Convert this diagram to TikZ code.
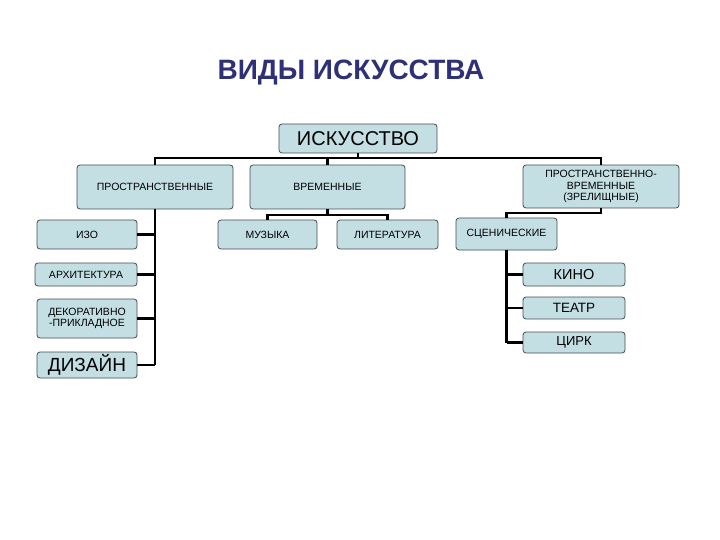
\documentclass[tikz,border=0pt]{standalone}
\usepackage{fontspec}
\setmainfont{Liberation Sans}
\usepackage{xcolor}
\usetikzlibrary{positioning}
\definecolor{boxfill}{RGB}{196,223,227}
\definecolor{boxline}{RGB}{70,75,78}
\definecolor{titleblue}{RGB}{46,48,120}

\tikzset{
    kind/.style={draw=boxline, line width=0.8pt, rectangle, rounded corners=3pt,
        fill=boxfill, align=center, inner sep=1pt, font=\fontsize{10.5}{11.5}\selectfont},
    link/.style={line width=2.4pt, black}
}

\begin{document}
\begin{tikzpicture}[x=1pt, y=-1pt]
    \useasboundingbox (0,0) rectangle (720,540);
    \node[text=titleblue, font=\fontsize{28}{32}\selectfont\bfseries] (title) at (351,73) {ВИДЫ ИСКУССТВА};

    % top level
    \node[kind, minimum width=158pt, minimum height=29pt, font=\fontsize{20}{22}\selectfont] (art) at (358,138.5) {ИСКУССТВО};
    \node[kind, minimum width=156pt, minimum height=44pt] (space) at (155,187) {ПРОСТРАНСТВЕННЫЕ};
    \node[kind, minimum width=155pt, minimum height=44pt] (time) at (327.5,187) {ВРЕМЕННЫЕ};
    \node[kind, minimum width=156pt, minimum height=43pt] (spacetime) at (601,186.5) {ПРОСТРАНСТВЕННО-\\ВРЕМЕННЫЕ\\(ЗРЕЛИЩНЫЕ)};

    % left column
    \node[kind, minimum width=100pt, minimum height=29pt] (izo) at (87,234.5) {ИЗО};
    \node[kind, minimum width=102pt, minimum height=23pt] (arch) at (86,274.5) {АРХИТЕКТУРА};
    \node[kind, minimum width=100pt, minimum height=39pt] (deco) at (87,318.5) {ДЕКОРАТИВНО\\-ПРИКЛАДНОЕ};
    \node[kind, minimum width=100pt, minimum height=26pt, font=\fontsize{19}{21}\selectfont] (design) at (87,365) {ДИЗАЙН};

    % middle
    \node[kind, minimum width=99pt, minimum height=29pt] (music) at (267.5,234.5) {МУЗЫКА};
    \node[kind, minimum width=101pt, minimum height=29pt] (lit) at (387.5,234.5) {ЛИТЕРАТУРА};

    % right column
    \node[kind, minimum width=101pt, minimum height=32pt] (stage) at (506.5,234) {СЦЕНИЧЕСКИЕ};
    \node[kind, minimum width=102pt, minimum height=23pt, font=\fontsize{14.5}{16}\selectfont] (cinema) at (574,274.5) {КИНО};
    \node[kind, minimum width=102pt, minimum height=22pt, font=\fontsize{13.5}{15}\selectfont] (theatre) at (574,308) {ТЕАТР};
    \node[kind, minimum width=102pt, minimum height=21pt, font=\fontsize{13}{15}\selectfont] (circus) at (574,342.5) {ЦИРК};

    % connectors
    \coordinate (bus) at (358,158);
    \draw[link] (art.south) -- (bus);
    \draw[link] (space.north) |- (bus) -| (spacetime.north);
    \draw[link] (time.north) -- (time.north |- bus);

    \coordinate (timebus) at (327.5,215);
    \draw[link] (time.south) -- (timebus);
    \draw[link] (music.north) |- (timebus) -| (lit.north);

    \draw[link] (space.south) -- (space.south |- design.east);
    \foreach \n in {izo, arch, deco, design}
        \draw[link] (\n.east) -- (\n.east -| space.south);

    \coordinate (stbus) at (506.5,213);
    \draw[link] (spacetime.south) |- (stbus) -- (stage.north);
    \draw[link] (stage.south) -- (stage.south |- circus.west);
    \foreach \n in {cinema, theatre, circus}
        \draw[link] (\n.west) -- (\n.west -| stage.south);
\end{tikzpicture}
\end{document}
